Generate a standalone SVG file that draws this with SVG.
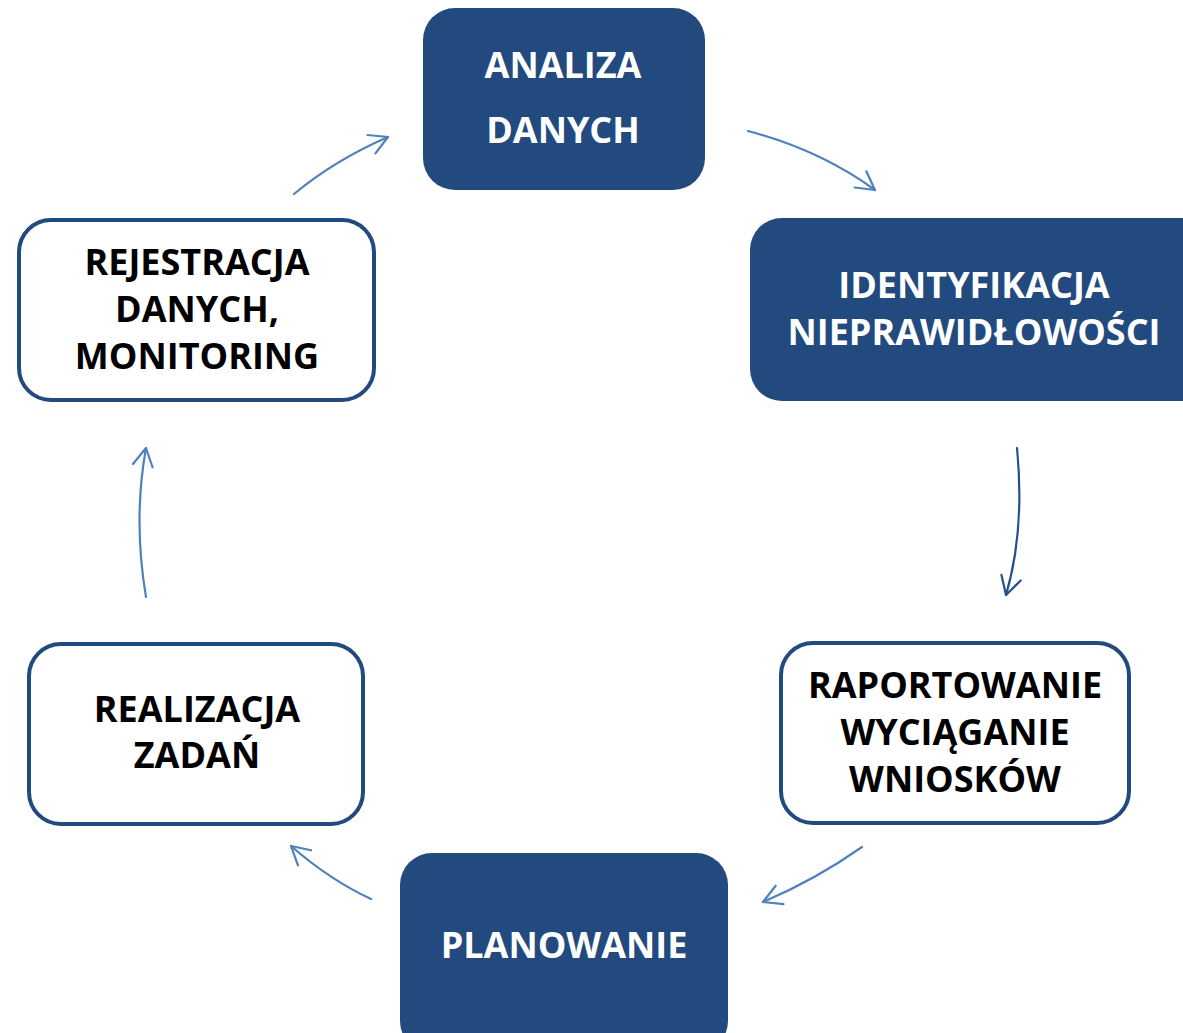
<svg xmlns="http://www.w3.org/2000/svg" width="1183" height="1033" viewBox="0 0 1183 1033">
  <style>
    .dark { fill: #224a7e; }
    .light { fill: #ffffff; stroke: #224a7e; stroke-width: 4; }
    .t { font-family: "Open Sans", "Liberation Sans", sans-serif; font-weight: 700; font-size: 36px; text-anchor: middle; }
    .tw { fill: #ffffff; }
    .tb { fill: #000000; }
    .arr { fill: none; stroke: #4f81bd; stroke-width: 2.2; stroke-linecap: round; }
    .arr.deep { stroke: #25508a; }
  </style>
  <defs>
    <marker id="head" markerUnits="userSpaceOnUse" markerWidth="30" markerHeight="30" refX="0" refY="0" viewBox="-22 -15 30 30" orient="auto">
      <path d="M-18,-10 L0,0 L-18,10" fill="none" stroke="#4f81bd" stroke-width="2.2" stroke-linecap="round" stroke-linejoin="round"/>
    </marker>
    <marker id="headDeep" markerUnits="userSpaceOnUse" markerWidth="30" markerHeight="30" refX="0" refY="0" viewBox="-22 -15 30 30" orient="auto">
      <path d="M-18,-10 L0,0 L-18,10" fill="none" stroke="#25508a" stroke-width="2.2" stroke-linecap="round" stroke-linejoin="round"/>
    </marker>
  </defs>

  <g id="connectors">
    <path class="arr" d="M294,194 Q335,160 388,137" marker-end="url(#head)"/>
    <path class="arr" d="M748,131 Q820,150 875,190" marker-end="url(#head)"/>
    <path class="arr deep" d="M1017,448 Q1025,530 1006,595" marker-end="url(#headDeep)"/>
    <path class="arr" d="M862,847 Q815,880 763,902" marker-end="url(#head)"/>
    <path class="arr" d="M371,899 Q330,880 291,846" marker-end="url(#head)"/>
    <path class="arr" d="M146,597 Q133,520 146,448" marker-end="url(#head)"/>
  </g>

  <g id="analiza">
    <rect class="dark" x="423" y="8" width="282" height="182" rx="32"/>
    <text class="t tw" x="563" y="78">ANALIZA</text>
    <text class="t tw" x="563" y="143">DANYCH</text>
  </g>

  <g id="identyfikacja">
    <rect class="dark" x="750" y="218" width="470" height="183" rx="32"/>
    <text class="t tw" x="974" y="298">IDENTYFIKACJA</text>
    <text class="t tw" x="974" y="345">NIEPRAWIDŁOWOŚCI</text>
  </g>

  <g id="raportowanie">
    <rect class="light" x="781" y="643" width="348" height="180" rx="32"/>
    <text class="t tb" x="955" y="698">RAPORTOWANIE</text>
    <text class="t tb" x="955" y="745">WYCIĄGANIE</text>
    <text class="t tb" x="955" y="792">WNIOSKÓW</text>
  </g>

  <g id="planowanie">
    <rect class="dark" x="400" y="853" width="328" height="200" rx="32"/>
    <text class="t tw" x="564" y="958">PLANOWANIE</text>
  </g>

  <g id="realizacja">
    <rect class="light" x="29" y="644" width="334" height="180" rx="32"/>
    <text class="t tb" x="197" y="722">REALIZACJA</text>
    <text class="t tb" x="197" y="768">ZADAŃ</text>
  </g>

  <g id="rejestracja">
    <rect class="light" x="19" y="220" width="355" height="180" rx="32"/>
    <text class="t tb" x="197" y="275">REJESTRACJA</text>
    <text class="t tb" x="197" y="322">DANYCH,</text>
    <text class="t tb" x="197" y="369">MONITORING</text>
  </g>
</svg>
